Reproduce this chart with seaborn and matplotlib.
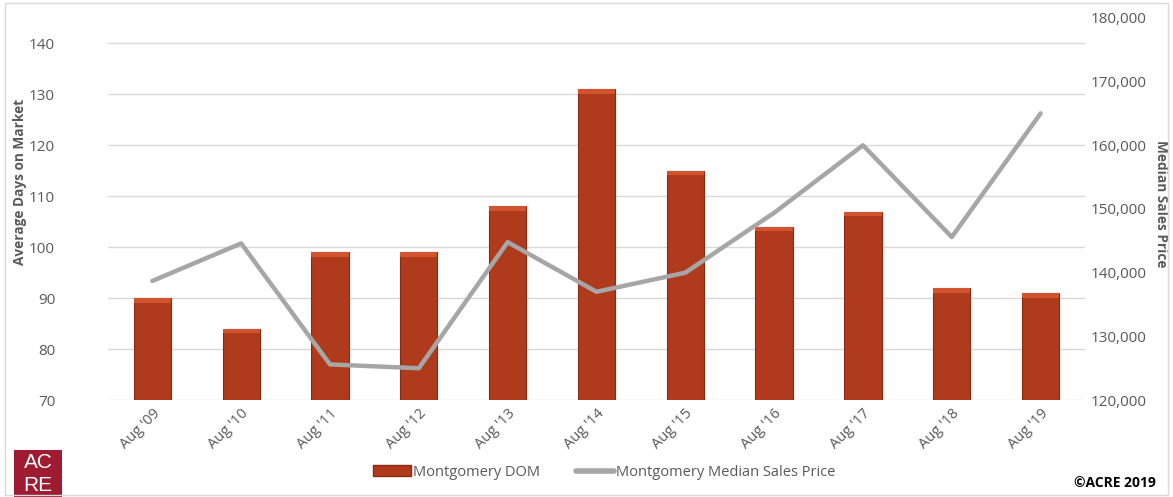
import matplotlib.pyplot as plt
import matplotlib.patches as mpatches
from matplotlib.lines import Line2D
from matplotlib.ticker import FuncFormatter
import seaborn as sns
import pandas as pd

# Montgomery data, Aug '09 - Aug '19
months = ["Aug '09", "Aug '10", "Aug '11", "Aug '12", "Aug '13", "Aug '14",
          "Aug '15", "Aug '16", "Aug '17", "Aug '18", "Aug '19"]
dom = [90, 84, 99, 99, 108, 131, 115, 104, 107, 92, 91]
median_price = [138700, 144600, 125600, 125000, 144800, 137000,
                140000, 149400, 160000, 145600, 165000]

df = pd.DataFrame({"month": months, "dom": dom, "price": median_price})

sns.set_theme(style="white")
plt.rcParams["font.family"] = ["Open Sans", "DejaVu Sans"]
txt = "#595959"

fig = plt.figure(figsize=(11.73, 4.97), dpi=100)
ax = fig.add_axes([0.092, 0.195, 0.833, 0.769])

# bars
sns.barplot(data=df, x="month", y="dom", color="#B03A1C", width=0.42,
            saturation=1, edgecolor="#8A2A12", linewidth=0.8, ax=ax, zorder=2)
# a light strip at the top of each bar, like the bevel in the original
for p in ax.patches:
    ax.add_patch(mpatches.Rectangle((p.get_x(), p.get_height() - 0.9), p.get_width(), 0.9,
                                    facecolor="#D4532F", edgecolor="none", zorder=3))

ax.set_ylim(70, 145)
ax.set_yticks(range(70, 141, 10))
ax.set_xlim(-0.5, len(months) - 0.5)
ax.grid(axis="y", color="#D9D9D9", linewidth=1)
ax.set_axisbelow(True)
for s in ax.spines.values():
    s.set_visible(False)
ax.tick_params(axis="y", colors=txt, labelsize=11, length=0, pad=38)
ax.tick_params(axis="x", colors=txt, labelsize=10.5, length=0, pad=4)
plt.setp(ax.get_xticklabels(), rotation=45, ha="right", rotation_mode="anchor")
ax.set_xlabel("")
ax.set_ylabel("Average Days on Market", color=txt, fontsize=9.8, fontweight="bold")
ax.yaxis.set_label_coords(-0.083, 0.57)

# line on secondary axis
ax2 = ax.twinx()
sns.lineplot(data=df, x="month", y="price", sort=False, color="#A6A6A6",
             linewidth=3.2, ax=ax2, zorder=4)
ax2.set_ylim(120000, 180000)
ax2.set_yticks(range(120000, 180001, 10000))
ax2.yaxis.set_major_formatter(FuncFormatter(lambda v, _: f"{int(v):,}"))
for s in ax2.spines.values():
    s.set_visible(False)
ax2.grid(False)
ax2.tick_params(axis="y", colors=txt, labelsize=11, length=0, pad=4)
ax2.set_ylabel("Median Sales Price", color=txt, fontsize=9.8, fontweight="bold",
               rotation=270, va="center")
ax2.yaxis.set_label_coords(1.078, 0.515)
ax2.set_xlabel("")

# legend
handles = [mpatches.Patch(facecolor="#B03A1C", edgecolor="#8A2A12"),
           Line2D([0], [0], color="#A6A6A6", linewidth=4)]
fig.legend(handles, ["Montgomery DOM", "Montgomery Median Sales Price"],
           loc="center", bbox_to_anchor=(0.515, 0.05), ncol=2, frameon=False,
           fontsize=10.5, labelcolor=txt, handlelength=2.6, handletextpad=0.1,
           columnspacing=2.5)

# logo and credit
fig.patches.append(mpatches.Rectangle((0.012, 0.0), 0.041, 0.094, transform=fig.transFigure,
                                      facecolor="#9E1B32", edgecolor="none"))
fig.text(0.0325, 0.070, "AC", color="white", fontsize=15, ha="center", va="center",
         family=["Liberation Sans Narrow", "Liberation Sans", "DejaVu Sans"])
fig.text(0.0325, 0.024, "RE", color="white", fontsize=15, ha="center", va="center",
         family=["Liberation Sans Narrow", "Liberation Sans", "DejaVu Sans"])
fig.text(0.985, 0.028, "©ACRE 2019", color="black", fontsize=10, fontweight="bold",
         ha="right", va="center")

# outer frame
fig.patches.append(mpatches.Rectangle((0.004, 0.004), 0.992, 0.99, transform=fig.transFigure,
                                      facecolor="none", edgecolor="#D9D9D9", linewidth=1))

fig.savefig("out.png", dpi=100)
